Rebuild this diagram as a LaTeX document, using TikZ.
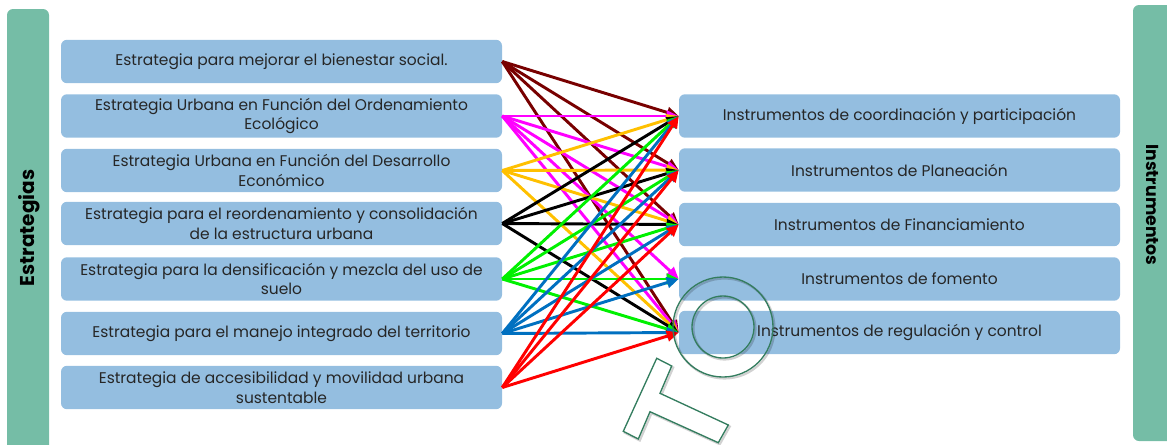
\documentclass[tikz,border=0pt]{standalone}
\usepackage{fontspec}
\setmainfont{Poppins}
\usetikzlibrary{arrows.meta}
\definecolor{boxblue}{RGB}{148,190,224}
\definecolor{barteal}{RGB}{117,189,166}
\definecolor{txt}{RGB}{38,38,38}
\definecolor{cdred}{RGB}{120,0,0}
\definecolor{cmag}{RGB}{255,0,255}
\definecolor{corg}{RGB}{255,192,0}
\definecolor{cblk}{RGB}{0,0,0}
\definecolor{cgrn}{RGB}{0,240,0}
\definecolor{cblu}{RGB}{0,112,192}
\definecolor{cred}{RGB}{255,0,0}
\definecolor{wmgreen}{RGB}{52,125,95}
\begin{document}
\begin{tikzpicture}[x=0.75pt,y=-0.75pt,
  box/.style={fill=boxblue, rounded corners=4.5pt, minimum width=330.75pt, minimum height=32.6pt, inner sep=0pt, align=center, font=\fontsize{11.6}{14.6}\selectfont, text=txt},
  bartext/.style={font=\bfseries\fontsize{13}{15}\selectfont, text=black, inner sep=0pt},
  con/.style={line width=2.2pt, -{Triangle[length=9pt,width=8pt]}},
  wm/.style={draw=wmgreen, line width=1pt},
  wmshadow/.style={draw=black, opacity=0.18, line width=1.6pt}]
\useasboundingbox (0,0) rectangle (1167,444);
\clip (0,0) rectangle (1167,444);
% side bars
\fill[barteal, rounded corners=4.5pt] (7,9) rectangle (49,470);
\node[bartext, rotate=90, font=\bfseries\fontsize{15}{17}\selectfont] (lbl) at (29,228) {Estrategias};
\fill[barteal, rounded corners=4.5pt] (1133,5) rectangle (1190,441);
\node[bartext, rotate=-90] (rbl) at (1152,205) {Instrumentos};
% left boxes
\node[box] (s1) at (281.5,61.5) {Estrategia para mejorar el bienestar social.};
\node[box] (s2) at (281.5,116) {Estrategia Urbana en Función del Ordenamiento\\Ecológico};
\node[box] (s3) at (281.5,170.5) {Estrategia Urbana en Función del Desarrollo\\Económico};
\node[box] (s4) at (281.5,223.5) {Estrategia para el reordenamiento y consolidación\\de la estructura urbana};
\node[box] (s5) at (281.5,279) {Estrategia para la densificación y mezcla del uso de\\suelo};
\node[box] (s6) at (281.5,333.5) {Estrategia para el manejo integrado del territorio};
\node[box] (s7) at (281.5,387.5) {Estrategia de accesibilidad y movilidad urbana\\sustentable};
% right boxes
\node[box] (t1) at (899.5,116) {Instrumentos de coordinación y participación};
\node[box] (t2) at (899.5,170) {Instrumentos de Planeación};
\node[box] (t3) at (899.5,224.5) {Instrumentos de Financiamiento};
\node[box] (t4) at (899.5,279) {Instrumentos de fomento};
\node[box] (t5) at (899.5,332.5) {Instrumentos de regulación y control};
% connectors
\foreach \t in {t1,t2,t3,t5} \draw[con, cdred] (s1.east) -- (\t.west);
\foreach \t in {t1,t2,t3,t4,t5} \draw[con, cmag] (s2.east) -- (\t.west);
\foreach \t in {t1,t2,t3,t5} \draw[con, corg] (s3.east) -- (\t.west);
\foreach \t in {t1,t2,t3,t5} \draw[con, cblk] (s4.east) -- (\t.west);
\foreach \t in {t1,t2,t3,t4,t5} \draw[con, cgrn] (s5.east) -- (\t.west);
\foreach \t in {t1,t2,t3,t4,t5} \draw[con, cblu] (s6.east) -- (\t.west);
\foreach \t in {t1,t2,t3,t5} \draw[con, cred] (s7.east) -- (\t.west);
% watermark
\draw[wmshadow] (724.5,328.5) circle[radius=50];
\draw[wmshadow] (724.5,328.5) circle[radius=31];
\draw[wm] (723,327) circle[radius=50];
\draw[wm] (723,327) circle[radius=31];
\draw[wmshadow] (658.2,359.8) -- (673.2,367.5) -- (661.5,394.8) -- (729.8,426.5) -- (719.8,444.2) -- (651.5,413.2) -- (639.8,440.5) -- (624.8,432.8) -- cycle;
\draw[wm, fill=white] (656.7,358.3) -- (671.7,366) -- (660,393.3) -- (728.3,425) -- (718.3,442.7) -- (650,411.7) -- (638.3,439) -- (623.3,431.3) -- cycle;
\end{tikzpicture}
\end{document}
